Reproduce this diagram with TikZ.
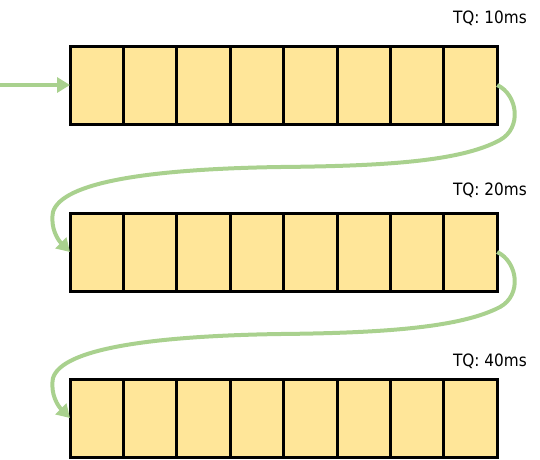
\documentclass[tikz,border=0pt]{standalone}
\usepackage{fontspec}
\setmainfont{DejaVu Sans Condensed}
\usetikzlibrary{arrows.meta}
\definecolor{cellfill}{HTML}{FFE699}
\definecolor{flowgreen}{HTML}{A9D18E}
\tikzset{
  cell/.style={draw=black, fill=cellfill, line width=3pt, minimum width=53.4pt, minimum height=78pt, inner sep=0pt, outer sep=0pt},
  flow/.style={draw=flowgreen, line width=4pt, -{Triangle[length=13pt,width=15pt]}},
  tq/.style={font=\fontsize{17pt}{19pt}\selectfont, anchor=base east, inner sep=0pt}
}
\begin{document}
\begin{tikzpicture}[x=1pt,y=-1pt]
\useasboundingbox (0,0) rectangle (540,459);
\foreach \r/\y in {1/85,2/252,3/418}{
  \foreach \c in {1,...,8}{
    \node[cell] (r\r c\c) at ({70+53.4*(\c-0.5)},\y) {};
  }
}
\node[tq] (tq1) at (527,23) {TQ: 10ms};
\node[tq] (tq2) at (527,195) {TQ: 20ms};
\node[tq] (tq3) at (527,366) {TQ: 40ms};
\coordinate (start) at (0,85);
\draw[flow] (start) -- (r1c1.west);
\draw[flow] (r1c8.east) .. controls (518,95) and (522,128) .. (500,140)
  .. controls (460,162) and (380,166) .. (280,167)
  .. controls (150,169) and (62,182) .. (53,212)
  .. controls (50,228) and (58,240) .. (r2c1.west);
\draw[flow] (r2c8.east) .. controls (518,262) and (522,295) .. (500,307)
  .. controls (460,328) and (380,333) .. (280,334)
  .. controls (150,336) and (62,349) .. (53,378)
  .. controls (50,394) and (58,406) .. (r3c1.west);
\end{tikzpicture}
\end{document}
